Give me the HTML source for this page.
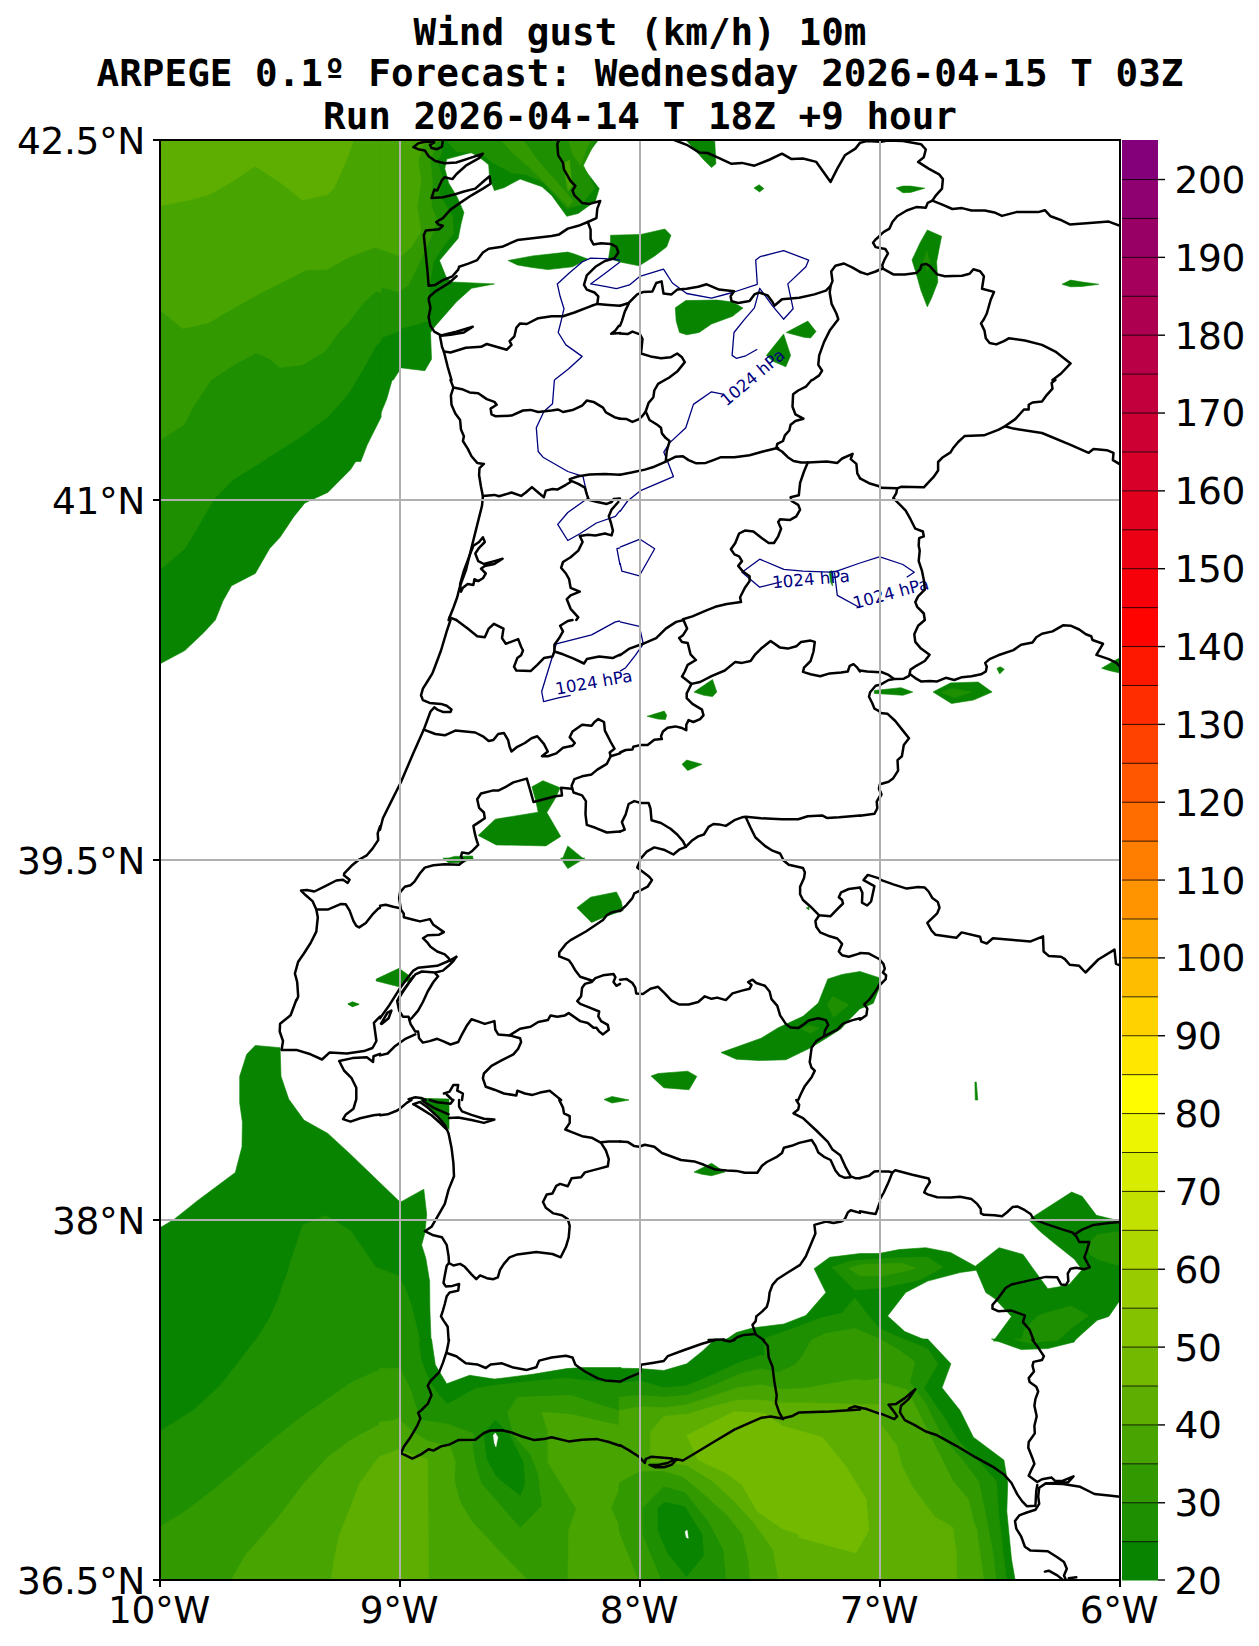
<!DOCTYPE html>
<html><head><meta charset="utf-8"><title>Wind gust (km/h) 10m</title>
<style>
html,body{margin:0;padding:0;background:#fff}
svg{display:block}
.t{font-family:"DejaVu Sans Mono","Liberation Mono",monospace;font-weight:bold;font-size:37.62px;text-anchor:middle;fill:#000}
.k{font-family:"DejaVu Sans","Liberation Sans",sans-serif;font-size:37.5px;fill:#000;letter-spacing:-0.4px}
.c{font-family:"DejaVu Sans","Liberation Sans",sans-serif;font-size:16.67px;fill:#00007f}
</style></head><body>
<svg width="1259" height="1646" viewBox="0 0 1259 1646">
<rect width="1259" height="1646" fill="#fff"/>
<text class="t" x="640" y="45" xml:space="preserve">Wind gust (km/h) 10m</text>
<text class="t" x="640" y="86" xml:space="preserve">ARPEGE 0.1º Forecast: Wednesday 2026-04-15 T 03Z</text>
<text class="t" x="640" y="129" xml:space="preserve">Run 2026-04-14 T 18Z +9 hour</text>
<defs><clipPath id="m"><rect x="160" y="140" width="960" height="1440"/></clipPath></defs>
<g clip-path="url(#m)">
<path d="M159.0,1228.4 174.3,1219.2 198.1,1200.2 235.3,1172.5 242.0,1146.8 242.4,1122.0 239.7,1102.9 239.7,1076.3 246.7,1054.3 255.3,1045.4 280.1,1047.7 281.0,1076.3 288.7,1099.1 303.9,1120.1 327.8,1133.4 350.6,1154.4 400.0,1202.1 400.0,1301.2 159.0,1301.2Z" fill="#098400" stroke="#098400" stroke-width="0.6"/>
<path d="M347.8,1003.8 352.5,1001.9 359.2,1004.2 352.5,1006.7Z" fill="#098400" stroke="#098400" stroke-width="0.6"/>
<path d="M159.0,1279.0 401.1,1279.0 401.1,1581.2 159.0,1581.2Z" fill="#098400" stroke="#098400" stroke-width="0.6"/>
<path d="M158.7,138.7 381.1,138.7 381.1,417.0 367.1,445.0 360.8,461.5 158.7,461.5Z" fill="#098400" stroke="#098400" stroke-width="0.6"/>
<path d="M159.0,459.0 357.3,459.0 350.6,469.5 327.8,492.4 304.9,502.9 293.4,517.2 280.1,537.2 269.6,548.6 255.3,573.4 231.5,585.8 222.9,601.1 215.3,620.1 203.8,632.5 184.8,650.6 159.0,664.4Z" fill="#098400" stroke="#098400" stroke-width="0.6"/>
<path d="M348.3,1004.4 352.5,1002.1 358.6,1004.4 352.5,1006.5Z" fill="#098400" stroke="#098400" stroke-width="0.6"/>
<path d="M421.0,1099.0 449.0,1099.0 449.0,1129.5 441.0,1120.0 431.5,1111.4Z" fill="#098400" stroke="#098400" stroke-width="0.6"/>
<path d="M379.0,1183.9 399.1,1202.9 423.8,1189.2 426.7,1214.4 424.8,1233.4 421.6,1244.9 425.8,1258.2 429.6,1281.1 429.9,1309.7 431.1,1341.1 379.0,1341.1Z" fill="#098400" stroke="#098400" stroke-width="0.6"/>
<path d="M379.0,1339.0 431.5,1339.0 435.3,1364.8 446.7,1383.8 469.6,1375.3 494.4,1379.1 532.5,1374.3 566.8,1368.6 582.1,1367.6 621.1,1367.6 621.1,1581.1 379.0,1581.1Z" fill="#098400" stroke="#098400" stroke-width="0.6"/>
<path d="M380.0,140.0 598.3,140.0 580.2,163.8 599.2,188.6 595.4,201.0 578.3,213.4 566.8,216.3 551.6,195.3 542.0,186.7 520.1,179.1 503.9,187.7 494.4,190.5 489.6,178.1 488.7,164.8 482.9,160.0 471.5,152.4 446.7,159.1 444.8,168.6 448.6,182.9 457.2,197.2 463.9,212.4 461.0,223.9 458.2,238.2 439.5,260.5 445.8,276.3 451.5,282.0 494.4,283.9 471.5,288.3 456.3,302.0 435.3,325.9 430.5,332.5 431.5,359.2 424.8,370.7 400.6,367.8 400.6,368.8 393.3,380.0 380.0,380.0Z" fill="#098400" stroke="#098400" stroke-width="0.6"/>
<path d="M508.1,260.5 532.5,255.9 567.8,252.1 574.4,254.0 587.8,259.1 572.5,266.8 547.8,269.6 530.6,267.3 517.3,264.9Z" fill="#098400" stroke="#098400" stroke-width="0.6"/>
<path d="M379.0,379.0 392.4,379.0 386.7,399.1 380.0,415.3 379.0,416.2Z" fill="#098400" stroke="#098400" stroke-width="0.6"/>
<path d="M478.2,835.4 495.3,819.2 538.2,812.2 535.9,801.1 531.9,786.8 543.0,780.7 560.1,787.8 555.4,798.2 546.8,812.5 560.7,836.4 545.8,845.9 528.7,845.5 496.3,844.9Z" fill="#098400" stroke="#098400" stroke-width="0.6"/>
<path d="M562.0,860.0 567.8,845.9 584.9,860.0Z" fill="#098400" stroke="#098400" stroke-width="0.6"/>
<path d="M442.9,860.0 454.3,856.4 472.5,856.0 473.4,860.0Z" fill="#098400" stroke="#098400" stroke-width="0.6"/>
<path d="M442.9,858.1 472.5,858.1 463.9,862.3 448.6,862.9Z" fill="#098400" stroke="#098400" stroke-width="0.6"/>
<path d="M560.7,858.1 584.9,858.1 567.8,868.6Z" fill="#098400" stroke="#098400" stroke-width="0.6"/>
<path d="M576.9,907.7 590.6,897.2 616.4,892.0 621.1,901.0 623.1,910.5 604.9,916.8 591.6,922.5Z" fill="#098400" stroke="#098400" stroke-width="0.6"/>
<path d="M376.2,979.1 399.1,968.3 408.6,975.3 412.4,980.1 404.8,982.0 399.1,986.8 376.2,981.0Z" fill="#098400" stroke="#098400" stroke-width="0.6"/>
<path d="M421.0,1098.3 446.7,1099.2 446.7,1101.1 421.0,1101.1Z" fill="#098400" stroke="#098400" stroke-width="0.6"/>
<path d="M694.0,1172.1 711.5,1163.3 724.8,1172.1 711.5,1175.7 702.0,1174.3Z" fill="#098400" stroke="#098400" stroke-width="0.6"/>
<path d="M723.9,1341.1 736.3,1332.6 753.4,1327.8 783.9,1324.0 805.9,1315.4 825.9,1292.5 814.1,1268.7 829.7,1257.3 860.0,1253.5 881.2,1253.5 881.2,1341.1Z" fill="#098400" stroke="#098400" stroke-width="0.6"/>
<path d="M604.0,1099.5 612.0,1096.5 629.0,1100.0 612.0,1103.0Z" fill="#098400" stroke="#098400" stroke-width="0.6"/>
<path d="M619.0,1368.2 640.0,1368.6 663.8,1370.5 686.7,1363.8 702.0,1351.4 715.3,1339.0 881.2,1339.0 881.2,1581.1 619.0,1581.1Z" fill="#098400" stroke="#098400" stroke-width="0.6"/>
<path d="M685.8,140.0 714.7,140.0 715.9,163.8 711.5,167.6 703.9,160.0 696.3,151.4Z" fill="#098400" stroke="#098400" stroke-width="0.6"/>
<path d="M754.0,188.0 759.2,184.8 763.9,188.6 759.5,191.9Z" fill="#098400" stroke="#098400" stroke-width="0.6"/>
<path d="M610.5,235.3 641.0,234.4 664.8,229.0 670.9,235.3 666.7,246.8 654.3,256.3 639.1,265.8 620.0,262.0 608.6,258.2 610.5,246.8Z" fill="#098400" stroke="#098400" stroke-width="0.6"/>
<path d="M675.3,307.8 685.8,300.5 717.2,300.1 732.5,302.0 743.0,308.1 732.5,316.3 711.5,324.0 699.1,332.5 686.7,334.8 679.5,332.5 676.2,321.1Z" fill="#098400" stroke="#098400" stroke-width="0.6"/>
<path d="M786.2,332.5 807.8,321.1 816.0,331.6 810.6,337.9 804.0,337.3Z" fill="#098400" stroke="#098400" stroke-width="0.6"/>
<path d="M766.4,355.4 783.6,334.1 790.6,355.4 785.8,366.8 772.5,361.1Z" fill="#098400" stroke="#098400" stroke-width="0.6"/>
<path d="M829.3,571.6 832.0,570.6 832.5,585.9 830.6,582.1Z" fill="#098400" stroke="#098400" stroke-width="0.6"/>
<path d="M694.0,692.1 712.5,679.5 716.8,692.1 712.5,696.6 703.9,695.3Z" fill="#098400" stroke="#098400" stroke-width="0.6"/>
<path d="M647.1,716.3 664.2,711.1 666.7,715.3 665.4,719.5 658.1,719.1Z" fill="#098400" stroke="#098400" stroke-width="0.6"/>
<path d="M682.0,764.3 686.7,760.1 702.0,764.3 687.7,770.6Z" fill="#098400" stroke="#098400" stroke-width="0.6"/>
<path d="M721.0,1052.5 734.4,1047.8 761.1,1038.2 778.2,1027.8 803.0,1016.3 818.3,1003.0 827.8,979.1 842.1,974.4 860.0,971.5 880.0,978.0 881.0,983.5 873.3,1003.2 867.2,1006.0 860.0,1008.7 848.8,1020.1 841.1,1028.7 827.8,1037.3 810.6,1047.8 785.8,1059.8 759.2,1060.5 736.3,1059.2Z" fill="#098400" stroke="#098400" stroke-width="0.6"/>
<path d="M651.1,1076.0 658.1,1073.5 687.7,1071.2 696.8,1076.4 689.0,1089.7 663.8,1087.8Z" fill="#098400" stroke="#098400" stroke-width="0.6"/>
<path d="M806.4,908.0 808.7,906.7 809.1,909.9Z" fill="#098400" stroke="#098400" stroke-width="0.6"/>
<path d="M879.0,1253.5 899.1,1249.6 925.8,1247.7 950.5,1252.5 975.3,1266.2 999.1,1247.7 1023.0,1254.4 1032.5,1267.8 1047.8,1288.7 1059.2,1286.8 1069.7,1284.0 1082.1,1269.7 1074.4,1259.2 1051.6,1241.1 1040.1,1231.5 1028.7,1220.1 1034.4,1215.9 1071.6,1192.1 1082.1,1196.3 1096.4,1215.3 1120.0,1221.0 1120.0,1300.2 1108.8,1316.4 1097.3,1320.2 1080.2,1335.4 1074.4,1341.1 993.4,1341.1 1011.5,1316.4 994.4,1298.3 985.8,1292.5 976.3,1270.2 960.1,1272.5 927.7,1281.1 905.7,1292.5 887.6,1316.0 904.8,1331.6 927.7,1341.1 879.0,1341.1Z" fill="#098400" stroke="#098400" stroke-width="0.6"/>
<path d="M879.0,1339.0 927.7,1339.0 950.9,1363.8 942.0,1387.7 960.1,1410.5 973.4,1437.2 1003.9,1460.1 1007.7,1483.0 1006.8,1511.6 1011.5,1559.2 1015.3,1581.1 879.0,1581.1Z" fill="#098400" stroke="#098400" stroke-width="0.6"/>
<path d="M991.5,1339.0 1021.1,1349.5 1047.8,1348.6 1074.4,1341.9 1074.4,1339.0Z" fill="#098400" stroke="#098400" stroke-width="0.6"/>
<path d="M896.2,188.0 902.9,186.1 910.5,186.1 924.8,188.2 910.5,192.4 902.9,192.8Z" fill="#098400" stroke="#098400" stroke-width="0.6"/>
<path d="M912.0,260.1 920.0,242.9 927.3,230.0 941.6,236.3 939.1,248.7 936.6,262.0 937.8,282.0 931.5,298.2 927.3,306.8 921.0,290.6 916.2,273.4Z" fill="#098400" stroke="#098400" stroke-width="0.6"/>
<path d="M1062.0,284.3 1070.6,280.1 1082.1,282.0 1098.8,284.3 1082.1,286.4 1070.6,286.8Z" fill="#098400" stroke="#098400" stroke-width="0.6"/>
<path d="M874.3,690.5 901.0,687.7 912.8,692.1 902.9,695.3 888.6,694.3 874.3,693.4Z" fill="#098400" stroke="#098400" stroke-width="0.6"/>
<path d="M933.0,691.9 950.5,682.9 978.2,682.0 992.1,692.1 973.4,700.1 951.5,703.5Z" fill="#098400" stroke="#098400" stroke-width="0.6"/>
<path d="M996.9,668.6 1000.1,666.7 1004.3,669.2 999.7,673.9Z" fill="#098400" stroke="#098400" stroke-width="0.6"/>
<path d="M1101.7,668.2 1117.3,659.1 1120.0,658.1 1120.0,673.0 1108.8,670.5Z" fill="#098400" stroke="#098400" stroke-width="0.6"/>
<path d="M974.9,1082.1 976.3,1082.1 977.8,1100.0 975.3,1100.0Z" fill="#098400" stroke="#098400" stroke-width="0.6"/>
<path d="M278.2,1301.2 293.4,1253.5 303.0,1224.9 325.8,1215.4 350.6,1230.7 375.4,1266.9 400.0,1276.4 400.0,1301.2Z" fill="#1e8f00" stroke="#1e8f00" stroke-width="0.6"/>
<path d="M284.9,1279.0 278.2,1299.1 270.6,1316.2 259.1,1335.3 240.1,1360.1 221.0,1384.8 194.3,1409.6 159.0,1431.9 159.0,1581.2 401.1,1581.2 401.1,1279.0Z" fill="#1e8f00" stroke="#1e8f00" stroke-width="0.6"/>
<path d="M158.7,138.7 381.1,138.7 381.1,340.8 376.0,345.9 363.3,368.8 348.1,394.2 327.8,417.0 299.8,437.4 261.7,461.5 158.7,461.5Z" fill="#1e8f00" stroke="#1e8f00" stroke-width="0.6"/>
<path d="M159.0,459.0 266.8,459.0 232.4,480.0 213.4,500.0 198.1,526.7 184.8,548.6 159.0,570.9Z" fill="#1e8f00" stroke="#1e8f00" stroke-width="0.6"/>
<path d="M379.0,1269.3 397.2,1276.3 404.8,1286.8 411.5,1305.9 417.2,1328.8 420.0,1341.1 379.0,1341.1Z" fill="#1e8f00" stroke="#1e8f00" stroke-width="0.6"/>
<path d="M379.0,1339.0 418.1,1339.0 421.0,1359.1 429.6,1381.9 439.1,1395.3 447.7,1403.9 475.3,1388.6 498.2,1384.8 532.5,1381.0 566.8,1378.1 589.7,1381.0 621.1,1382.9 621.1,1581.1 379.0,1581.1Z" fill="#1e8f00" stroke="#1e8f00" stroke-width="0.6"/>
<path d="M380.0,140.0 442.9,140.0 441.0,155.3 437.2,161.0 442.9,178.1 439.1,193.4 452.4,216.3 453.4,233.4 442.9,246.8 433.4,262.0 429.6,284.9 427.7,321.1 400.6,328.7 400.6,330.6 380.0,338.3Z" fill="#1e8f00" stroke="#1e8f00" stroke-width="0.6"/>
<path d="M444.8,138.7 456.3,151.4 481.7,154.0 493.1,162.9 512.2,173.0 524.9,174.3 542.7,181.9 566.8,208.6 580.8,204.8 594.8,188.3 583.4,165.4 594.8,142.5 596.1,138.7Z" fill="#1e8f00" stroke="#1e8f00" stroke-width="0.6"/>
<path d="M831.9,1267.2 851.0,1260.8 889.3,1258.2 927.6,1257.0 942.9,1267.2 919.9,1279.9 884.2,1287.6 854.9,1290.1 847.2,1282.5Z" fill="#1e8f00" stroke="#1e8f00" stroke-width="0.6"/>
<path d="M764.3,1338.6 798.7,1326.4 820.4,1318.2 842.1,1313.1 854.9,1297.8 866.3,1313.1 879.1,1328.4 902.1,1338.6 927.6,1348.8 937.8,1364.1 922.5,1389.7 942.9,1415.2 958.2,1440.7 978.6,1461.1 996.5,1481.5 999.0,1517.2 1006.7,1581.0 764.3,1581.0Z" fill="#1e8f00" stroke="#1e8f00" stroke-width="0.6"/>
<path d="M619.0,1382.9 640.0,1381.0 663.8,1387.7 686.7,1385.8 715.3,1373.4 738.2,1362.9 761.1,1355.3 772.5,1357.2 791.6,1361.0 803.0,1353.3 810.6,1339.0 881.2,1339.0 881.2,1581.1 619.0,1581.1Z" fill="#1e8f00" stroke="#1e8f00" stroke-width="0.6"/>
<path d="M827.4,1004.9 832.5,996.3 848.8,1004.9 833.5,1017.3Z" fill="#1e8f00" stroke="#1e8f00" stroke-width="0.6"/>
<path d="M801.1,1028.7 808.7,1024.9 819.2,1028.1 810.6,1033.5Z" fill="#1e8f00" stroke="#1e8f00" stroke-width="0.6"/>
<path d="M1120.0,1231.5 1097.3,1234.4 1086.8,1244.9 1089.7,1254.4 1099.2,1260.1 1120.0,1265.8Z" fill="#1e8f00" stroke="#1e8f00" stroke-width="0.6"/>
<path d="M1021.1,1341.1 1024.9,1328.8 1038.2,1315.4 1070.6,1305.9 1088.7,1315.4 1070.6,1328.8 1057.3,1341.1Z" fill="#1e8f00" stroke="#1e8f00" stroke-width="0.6"/>
<path d="M879.0,1339.0 891.4,1339.0 927.7,1357.2 937.2,1364.8 923.8,1387.7 942.9,1416.3 956.3,1439.1 971.5,1458.2 994.4,1481.1 996.3,1503.9 1002.0,1549.7 1005.8,1581.1 879.0,1581.1Z" fill="#1e8f00" stroke="#1e8f00" stroke-width="0.6"/>
<path d="M1013.4,1339.0 1032.5,1343.8 1051.6,1339.0Z" fill="#1e8f00" stroke="#1e8f00" stroke-width="0.6"/>
<path d="M923.5,262.0 926.7,250.6 929.9,262.0 927.7,271.5Z" fill="#1e8f00" stroke="#1e8f00" stroke-width="0.6"/>
<path d="M941.0,692.4 951.5,688.2 971.5,692.1 954.3,697.8Z" fill="#1e8f00" stroke="#1e8f00" stroke-width="0.6"/>
<path d="M483.9,1433.4 495.3,1420.1 509.6,1435.3 523.0,1462.0 524.9,1483.0 520.1,1495.4 496.3,1476.3 486.8,1458.2Z" fill="#098400" stroke="#098400" stroke-width="0.6"/>
<path d="M401.1,1368.1 375.4,1371.5 350.6,1382.9 325.8,1400.1 301.1,1417.3 274.4,1438.2 249.6,1459.2 217.2,1486.8 184.8,1511.6 159.0,1527.2 159.0,1581.2 401.1,1581.2Z" fill="#339900" stroke="#339900" stroke-width="0.6"/>
<path d="M158.7,138.7 381.1,138.7 381.1,292.5 376.0,291.2 363.3,302.7 348.1,323.0 337.9,333.2 325.2,351.0 302.3,364.9 279.5,367.5 269.3,358.6 256.6,353.0 233.7,364.9 210.8,380.2 193.0,406.9 184.1,424.7 158.7,441.2Z" fill="#339900" stroke="#339900" stroke-width="0.6"/>
<path d="M379.0,1368.6 400.0,1368.6 410.5,1389.6 415.3,1404.8 421.0,1420.1 446.7,1423.9 473.4,1433.4 472.5,1446.8 475.3,1463.9 481.0,1483.0 520.1,1527.8 542.0,1505.8 538.2,1473.4 530.6,1454.4 513.4,1435.3 507.7,1412.4 517.3,1397.2 570.6,1395.3 621.1,1411.5 621.1,1581.1 379.0,1581.1Z" fill="#339900" stroke="#339900" stroke-width="0.6"/>
<path d="M380.0,140.0 437.2,140.0 430.5,161.0 432.4,181.0 431.5,206.7 437.2,220.1 433.4,231.5 421.0,259.1 408.6,284.9 400.6,290.6 400.6,292.5 380.0,286.8Z" fill="#339900" stroke="#339900" stroke-width="0.6"/>
<path d="M499.5,138.7 522.3,138.7 537.6,160.3 557.9,183.2 573.2,201.0 568.1,206.6 550.3,188.3 530.0,168.0 512.2,152.7Z" fill="#339900" stroke="#339900" stroke-width="0.6"/>
<path d="M568.1,138.7 573.2,155.3 580.8,165.4 585.9,150.2 592.3,138.7Z" fill="#339900" stroke="#339900" stroke-width="0.6"/>
<path d="M848.5,1268.4 861.2,1264.6 902.1,1263.3 916.1,1268.4 884.2,1276.1 860.0,1276.1Z" fill="#339900" stroke="#339900" stroke-width="0.6"/>
<path d="M798.7,1361.6 803.1,1354.4 811.5,1340.1 825.5,1333.5 854.9,1328.4 879.1,1338.6 897.0,1348.8 914.8,1361.6 909.7,1382.0 925.0,1402.4 942.9,1438.1 963.3,1461.1 978.6,1481.5 986.3,1517.2 993.9,1581.0 798.7,1581.0Z" fill="#339900" stroke="#339900" stroke-width="0.6"/>
<path d="M619.0,1397.2 640.0,1395.3 663.8,1397.2 686.7,1395.3 715.3,1384.8 738.2,1374.3 761.1,1368.6 778.2,1372.4 795.4,1364.8 806.8,1351.4 812.5,1339.0 881.2,1339.0 881.2,1581.1 619.0,1581.1Z" fill="#339900" stroke="#339900" stroke-width="0.6"/>
<path d="M879.0,1349.5 914.3,1362.9 908.6,1387.7 913.4,1410.5 927.7,1429.6 942.9,1446.8 946.7,1458.2 973.4,1486.8 983.9,1507.8 992.5,1549.7 996.3,1581.1 879.0,1581.1Z" fill="#339900" stroke="#339900" stroke-width="0.6"/>
<path d="M401.1,1417.3 375.4,1426.8 350.6,1440.1 327.8,1457.3 304.9,1482.1 282.0,1512.6 262.9,1535.4 245.8,1554.5 230.5,1581.2 401.1,1581.2Z" fill="#48a400" stroke="#48a400" stroke-width="0.6"/>
<path d="M158.7,138.7 381.1,138.7 381.1,249.8 374.8,247.3 349.4,256.9 326.5,269.6 306.1,270.1 287.1,279.8 261.7,292.5 236.3,306.5 208.3,323.0 182.9,328.6 158.7,309.0Z" fill="#48a400" stroke="#48a400" stroke-width="0.6"/>
<path d="M379.0,1422.0 400.0,1420.1 412.4,1431.5 427.7,1441.0 450.5,1446.8 455.3,1462.0 454.3,1481.1 460.1,1502.0 471.5,1521.1 498.2,1549.7 528.7,1581.1 379.0,1581.1Z" fill="#48a400" stroke="#48a400" stroke-width="0.6"/>
<path d="M542.0,1412.4 547.8,1431.5 547.8,1462.0 563.0,1486.8 576.3,1508.7 568.7,1530.6 567.8,1581.1 621.1,1581.1 621.1,1425.8 570.6,1414.3Z" fill="#48a400" stroke="#48a400" stroke-width="0.6"/>
<path d="M380.0,140.0 424.8,140.0 418.1,161.0 421.0,181.0 417.2,206.7 421.0,231.5 411.5,246.8 400.6,256.7 380.0,249.0Z" fill="#48a400" stroke="#48a400" stroke-width="0.6"/>
<path d="M564.3,162.9 569.4,160.3 571.9,185.8 568.1,190.8 565.6,178.1Z" fill="#48a400" stroke="#48a400" stroke-width="0.6"/>
<path d="M798.7,1389.7 825.5,1384.5 854.9,1379.4 879.1,1382.0 907.2,1389.7 919.9,1415.2 937.8,1450.9 953.1,1481.5 968.4,1499.4 978.6,1542.8 983.7,1581.0 798.7,1581.0Z" fill="#48a400" stroke="#48a400" stroke-width="0.6"/>
<path d="M619.0,1410.5 640.0,1406.7 663.8,1407.7 686.7,1404.8 715.3,1395.3 738.2,1387.7 761.1,1384.8 782.0,1389.6 810.6,1387.7 833.5,1385.8 881.2,1378.1 881.2,1581.1 619.0,1581.1Z" fill="#48a400" stroke="#48a400" stroke-width="0.6"/>
<path d="M879.0,1429.6 899.1,1425.8 914.3,1435.3 921.0,1454.4 935.3,1483.0 952.4,1492.5 967.7,1505.8 977.2,1530.6 981.0,1581.1 879.0,1581.1Z" fill="#48a400" stroke="#48a400" stroke-width="0.6"/>
<path d="M401.1,1447.8 377.3,1459.2 359.2,1484.0 350.6,1506.8 339.2,1535.4 333.5,1562.1 331.2,1581.2 401.1,1581.2Z" fill="#5dae00" stroke="#5dae00" stroke-width="0.6"/>
<path d="M158.7,138.7 354.4,138.7 349.4,152.7 343.0,168.0 334.1,188.3 327.8,194.6 302.3,200.2 279.5,181.9 255.3,166.2 233.7,180.7 209.6,194.6 185.4,201.0 158.7,206.1Z" fill="#5dae00" stroke="#5dae00" stroke-width="0.6"/>
<path d="M379.0,1456.3 400.0,1450.6 427.7,1459.1 428.6,1581.1 379.0,1581.1Z" fill="#5dae00" stroke="#5dae00" stroke-width="0.6"/>
<path d="M798.7,1406.2 825.5,1405.0 858.7,1412.6 881.7,1425.4 897.0,1445.8 902.1,1466.2 912.3,1486.6 935.2,1517.2 953.1,1527.4 956.9,1581.0 798.7,1581.0Z" fill="#5dae00" stroke="#5dae00" stroke-width="0.6"/>
<path d="M650.5,1431.5 663.8,1416.3 686.7,1414.3 715.3,1405.8 738.2,1400.0 761.1,1400.0 782.0,1402.9 810.6,1402.9 881.2,1404.8 881.2,1581.1 619.0,1581.1 619.0,1474.4 640.0,1464.9 650.5,1463.0Z" fill="#5dae00" stroke="#5dae00" stroke-width="0.6"/>
<path d="M879.0,1463.9 891.4,1481.1 903.8,1505.8 929.6,1523.0 952.4,1528.7 956.3,1549.7 956.3,1581.1 879.0,1581.1Z" fill="#5dae00" stroke="#5dae00" stroke-width="0.6"/>
<path d="M798.7,1430.5 823.0,1438.1 845.9,1466.2 866.3,1499.4 868.9,1530.0 856.1,1553.0 798.7,1537.6Z" fill="#72b900" stroke="#72b900" stroke-width="0.6"/>
<path d="M686.7,1435.3 734.4,1411.5 764.9,1413.4 782.0,1425.8 822.1,1437.2 844.9,1469.6 856.4,1490.6 857.3,1550.6 810.6,1538.3 782.0,1528.7 757.3,1511.6 742.0,1484.9 726.8,1473.4 698.2,1460.1Z" fill="#72b900" stroke="#72b900" stroke-width="0.6"/>
<path d="M621.1,1484.9 611.6,1507.8 621.1,1528.7Z" fill="#339900" stroke="#339900" stroke-width="0.6"/>
<path d="M619.0,1473.4 640.0,1463.9 663.8,1462.0 686.7,1465.8 711.5,1481.1 734.4,1502.0 753.4,1523.0 772.5,1549.7 778.2,1581.1 619.0,1581.1Z" fill="#48a400" stroke="#48a400" stroke-width="0.6"/>
<path d="M619.0,1483.0 640.0,1471.5 663.8,1471.5 682.9,1477.3 705.8,1496.3 726.8,1515.4 742.0,1534.4 747.7,1559.2 749.6,1581.1 639.1,1581.1 619.0,1530.6Z" fill="#339900" stroke="#339900" stroke-width="0.6"/>
<path d="M642.9,1507.8 663.8,1486.8 684.8,1492.5 707.7,1521.1 722.9,1549.7 725.8,1581.1 661.9,1581.1 642.9,1534.4Z" fill="#1e8f00" stroke="#1e8f00" stroke-width="0.6"/>
<path d="M658.1,1507.8 664.8,1502.0 684.8,1506.8 702.0,1534.4 703.5,1555.4 686.7,1576.4 667.7,1553.5 658.1,1530.6Z" fill="#098400" stroke="#098400" stroke-width="0.6"/>
<path d="M493.4,1435.3 495.3,1433.0 497.8,1437.2 495.9,1446.8 494.4,1442.9Z" fill="#ffffff" stroke="#ffffff" stroke-width="0.6"/>
<path d="M685.2,1531.6 687.1,1530.2 688.2,1538.3 686.3,1537.3Z" fill="#ffffff" stroke="#ffffff" stroke-width="0.6"/>
<g stroke="#00007f" stroke-width="1.3" fill="none" stroke-linejoin="round">
<path d="M620.0,260.1 604.9,258.6 590.6,258.2 582.1,262.0 568.7,273.4 557.3,283.9 560.1,296.3 564.0,308.7 561.1,321.1 558.2,332.5 565.9,344.9 582.1,356.4 568.7,368.8 554.4,380.0"/>
<path d="M620.0,262.0 604.9,273.4 590.6,283.9 604.9,286.4 616.4,288.7 620.0,287.7"/>
<path d="M554.4,380.0 552.5,403.8 543.9,411.5 536.3,427.7 538.2,451.5 543.0,457.2 567.8,471.5 583.0,476.3 587.8,498.2 567.8,512.5 557.7,524.3 567.8,540.5 580.2,533.5 596.4,523.0 615.4,516.3 620.0,510.6"/>
<path d="M620.0,547.8 616.9,548.7 620.0,564.9"/>
<path d="M620.0,621.0 615.4,621.9 591.6,634.9 556.3,643.8 552.5,656.2 547.8,671.5 541.7,691.5 543.6,701.6 557.3,698.2 570.6,695.3"/>
<path d="M620.0,287.7 629.5,284.9 640.0,276.3 663.5,269.2 672.4,283.0 686.7,293.5 711.5,298.2 732.5,292.5 757.3,284.3 755.7,260.1 760.1,256.7 783.6,250.6 808.7,260.1 805.9,266.8 787.8,283.9 793.1,308.7 783.6,319.2 772.5,305.8 759.7,288.3 754.4,307.8 743.9,320.1 734.0,332.5 732.1,355.4 736.3,358.3 745.8,355.8 757.3,349.3"/>
<path d="M620.0,511.5 627.6,501.0 640.0,490.9 673.4,476.6 668.6,463.9 663.8,452.1 669.6,442.9 685.8,427.7 693.4,404.4 711.5,391.8 723.9,394.3"/>
<path d="M620.0,547.2 640.0,539.2 654.7,548.7 639.4,575.8 621.9,571.2 620.0,563.0"/>
<path d="M782.0,581.7 759.7,587.2 742.0,572.2 759.7,559.2 783.9,569.3 803.0,571.2 829.7,572.2 835.4,571.6 860.0,563.0"/>
<path d="M834.5,572.5 837.3,595.4 860.0,607.8"/>
<path d="M620.0,621.9 639.4,626.3 643.3,643.8 635.3,655.3 625.7,667.7 620.0,671.1"/>
<path d="M880.0,556.9 902.9,564.5 914.3,572.2 906.7,577.3"/>
<path d="M860.0,563.0 880.0,556.6"/>
</g>
<text class="c" text-anchor="middle" transform="translate(594,683) rotate(-10)" y="5">1024 hPa</text>
<text class="c" text-anchor="middle" transform="translate(753,378) rotate(-40)" y="5">1024 hPa</text>
<text class="c" text-anchor="middle" transform="translate(811,580) rotate(-5)" y="5">1024 hPa</text>
<text class="c" text-anchor="middle" transform="translate(891,594) rotate(-15)" y="5">1024 hPa</text>
<g stroke="#000" stroke-width="2.5" fill="none" stroke-linejoin="round" stroke-linecap="round">
<path d="M296.3,1000.0 290.6,1015.3 280.1,1023.8 279.7,1031.5 283.0,1041.0 281.6,1049.9 296.3,1049.9 310.6,1054.3 322.0,1059.5 329.7,1052.4 346.8,1053.4 364.0,1051.1 372.5,1048.0 376.4,1041.0 373.9,1022.9 380.0,1016.5"/>
<path d="M380.0,1053.9 373.5,1056.2 373.1,1062.0 366.8,1057.2 352.5,1058.1 339.2,1061.0 344.0,1070.5 351.6,1078.2 356.3,1087.7 356.3,1099.1 353.5,1108.7 345.9,1114.4 343.0,1119.1 350.6,1121.6 360.2,1118.2 373.5,1115.3 380.0,1114.5"/>
<path d="M380.0,826.4 377.7,833.4 378.2,840.1 372.5,848.6 366.8,855.3 359.2,859.5 351.5,865.8 344.3,873.4 343.9,875.3 349.6,879.7 347.7,883.0 343.0,879.7 336.3,880.5 325.8,885.8 314.4,891.5 306.8,890.0 301.0,890.6 305.8,895.3 312.5,901.1 316.3,909.6 317.8,917.3 316.3,931.6 310.6,943.0 303.9,953.5 298.2,961.7 294.9,973.5 297.2,982.1 298.2,996.4 296.7,1000.0"/>
<path d="M317.2,909.6 327.7,909.6 341.1,903.9 345.8,904.3 349.6,910.6 353.5,921.1 356.3,925.8 359.2,927.4 365.8,923.0 372.5,914.4 378.2,908.7 380.0,907.8"/>
<path d="M380.0,1115.3 387.6,1114.3 397.2,1110.5 400.0,1108.6 406.7,1102.9 411.5,1100.0"/>
<path d="M413.4,1104.2 420.0,1101.9 427.7,1107.6 437.2,1116.2 444.8,1124.8 448.6,1133.4 451.5,1147.7 453.4,1162.9 454.0,1176.3 448.6,1189.6 444.8,1203.9 437.2,1217.2 431.5,1226.8 424.8,1231.2 433.4,1235.3 442.0,1237.3 446.7,1244.9 448.6,1256.3 449.0,1263.0 453.4,1265.5 460.1,1263.9 464.8,1266.8 471.5,1274.4 476.3,1279.2 480.1,1275.4 486.8,1278.2 493.4,1279.2 497.8,1277.3 500.1,1269.7 503.9,1263.9 509.6,1257.3 517.3,1254.4 536.3,1252.1 552.5,1254.0 560.7,1257.3 565.9,1246.8 568.7,1237.3 569.7,1225.8 567.8,1219.1 562.0,1215.3 553.5,1213.4 545.8,1207.7 543.0,1202.0 546.8,1194.4 552.5,1193.4 556.3,1185.8 560.1,1183.9 567.8,1186.2 571.6,1178.2 581.1,1177.2 584.9,1172.4 599.2,1168.6 607.8,1166.3 608.8,1159.1 605.9,1150.5 601.1,1142.9 591.6,1137.7 582.1,1136.2 572.5,1132.4 565.3,1129.5 569.7,1122.9 569.7,1116.2 564.0,1113.3 563.0,1107.6 559.2,1100.0"/>
<path d="M601.1,1142.3 608.8,1141.6 620.0,1141.6"/>
<path d="M413.4,1104.2 421.0,1108.6 431.5,1115.3 441.0,1123.8 445.8,1128.6"/>
<path d="M429.6,1100.0 437.2,1102.3 450.5,1103.8 453.4,1100.0"/>
<path d="M422.9,1101.0 433.4,1107.6 448.6,1114.3"/>
<path d="M459.1,1100.0 459.1,1106.7 462.0,1111.4 471.5,1114.9 483.9,1118.7 494.4,1119.6 483.9,1122.9 471.5,1120.0 458.2,1117.5 449.0,1118.1"/>
<path d="M449.0,1263.0 446.7,1265.8 444.8,1275.4 443.5,1283.0 445.8,1286.4 452.4,1285.9 459.1,1284.0 458.2,1290.6 449.6,1292.5 446.7,1296.3 444.8,1304.0 442.9,1310.6 441.0,1316.4 443.9,1321.1 447.7,1326.8 448.6,1340.0"/>
<path d="M449.0,1340.0 446.7,1351.4 442.9,1362.9 439.1,1372.4 430.5,1381.0 427.7,1385.8 429.9,1390.5 431.5,1395.3 427.7,1403.9 421.0,1410.5 418.1,1412.8 420.4,1418.5 417.2,1425.8 410.5,1437.2 403.8,1446.8 401.0,1453.4 405.7,1455.3 412.4,1458.6 421.0,1454.4 428.6,1449.2 433.4,1450.6 441.0,1446.4 449.6,1444.5 458.2,1440.1 475.3,1439.7 483.9,1433.0 490.6,1430.5 502.0,1430.2 511.5,1432.5 523.0,1436.8 534.4,1440.1 543.9,1439.1 551.6,1437.2 568.7,1441.4 582.1,1439.7 597.3,1439.1 608.8,1442.0 620.0,1445.8"/>
<path d="M446.7,1353.0 456.3,1356.2 465.8,1363.3 477.2,1364.4 485.8,1368.0 490.6,1364.4 502.0,1363.3 513.4,1367.6 526.8,1369.9 536.3,1367.3 539.2,1360.6 551.6,1357.5 565.9,1355.8 572.5,1357.5 575.4,1364.8 584.9,1371.5 597.3,1378.1 604.9,1380.4 620.0,1381.4"/>
<path d="M442.9,140.0 442.0,146.7 437.2,149.2 431.5,148.0 429.9,144.8 434.3,142.3 425.8,141.5 418.1,143.4 413.4,147.2 418.1,149.2 424.8,150.5 428.6,156.2 435.3,161.0 444.8,163.3 456.3,162.5 469.6,158.1 482.9,153.7 479.1,158.1 465.8,165.7 456.3,174.3 452.4,179.1 444.8,177.2 442.0,180.0 437.2,190.5 434.3,189.6 431.5,198.1 442.9,197.2 455.3,194.3 463.9,191.5 475.3,188.6 483.9,181.0 489.6,176.2 490.6,183.8 482.9,188.6 471.5,195.3 460.1,202.9 450.5,209.6 442.9,218.2 436.2,222.0 439.1,224.8 442.9,225.8 439.1,229.2 425.8,230.5 423.8,235.3 425.8,254.4 427.7,273.4 428.6,285.8 435.3,284.9 442.9,280.1 452.4,276.3 458.2,269.6 459.1,266.8 467.7,263.9 477.2,260.1 482.9,252.5 488.7,248.7 502.0,246.8 517.3,240.1 532.5,238.2 551.6,235.9 559.2,234.4 567.8,228.6 578.3,225.8 587.8,222.0 596.4,218.2 597.3,208.6 600.2,201.0 589.7,203.9 582.1,202.9 574.4,195.3 572.5,190.5 575.4,185.8 570.6,181.0 567.8,176.2 564.0,169.5 563.0,162.9 558.2,155.3 557.3,143.8 559.2,140.0"/>
<path d="M456.6,276.1 449.0,283.0 435.5,291.4 429.6,296.5 428.6,299.2 430.5,307.8 428.6,317.3 430.5,325.9 434.3,331.6 441.0,335.4 456.3,331.6 472.8,326.8 463.9,332.5 450.5,334.8 441.0,335.8 440.0,336.3 442.0,346.8 443.9,351.6 447.7,366.8 451.5,380.0"/>
<path d="M443.9,351.6 450.5,352.5 465.8,347.8 481.0,346.8 486.8,344.0 496.3,346.8 506.8,349.7 511.5,344.9 509.6,341.1 514.4,336.3 516.3,327.8 520.1,323.4 526.8,324.0 538.2,318.2 551.6,316.3 563.0,316.3 574.4,312.5 591.6,305.8 597.3,303.9 608.8,304.9 620.0,305.8"/>
<path d="M597.3,303.9 598.3,296.3 594.5,292.5 586.8,289.6 584.0,284.9 586.8,275.3 595.4,266.8 604.9,261.0 614.5,258.2 618.3,252.5 616.4,246.8 610.7,243.9 601.1,243.3 593.5,244.5 590.6,239.1 590.6,229.6 587.8,222.0"/>
<path d="M618.9,325.7 615.4,330.6 611.2,333.7 620.2,333.1"/>
<path d="M450.5,380.0 453.4,387.6 450.9,395.3 451.5,404.8 455.3,413.4 460.1,420.0 461.0,429.6 463.9,436.2 462.9,441.0 467.7,448.6 471.5,456.3 477.2,462.9 483.9,463.9 479.5,468.1 479.1,475.3 481.0,486.8 482.9,496.3 482.0,505.8 477.2,524.9 471.5,547.8 465.8,570.6 460.1,585.9 457.2,597.3 453.4,607.8 449.6,617.3 448.6,620.0"/>
<path d="M453.4,387.6 462.0,389.2 469.6,392.4 478.2,393.3 486.8,399.1 494.4,401.9 496.7,404.8 490.6,408.6 491.5,414.3 495.3,416.2 511.5,415.6 523.0,410.5 530.6,409.9 538.2,412.0 551.6,410.5 558.2,409.5 563.0,412.0 572.5,410.1 582.1,405.7 586.8,400.6 593.5,401.9 603.0,407.6 605.9,412.4 614.5,417.2 620.0,418.7"/>
<path d="M482.9,495.9 494.4,494.9 499.1,496.3 511.5,492.5 521.1,495.9 525.8,492.5 531.9,487.1 538.2,492.5 543.9,497.2 545.8,490.6 552.5,489.0 557.3,489.6 565.9,484.8 570.6,482.0 569.7,479.1 578.3,476.3 589.7,474.4 604.9,474.0 620.0,474.7"/>
<path d="M570.6,480.7 578.3,483.9 584.9,487.7 586.8,494.4 588.7,499.7 597.3,502.0 606.8,503.9 611.6,502.0 613.5,499.1 620.0,498.6"/>
<path d="M618.3,502.0 611.6,509.6 608.8,516.3 611.0,523.0 612.9,530.6 611.6,535.4 604.9,533.5 595.4,535.4 587.8,534.8 579.8,535.9 582.6,542.0 578.3,550.6 570.6,557.3 563.0,562.0 561.1,567.8 565.9,573.5 569.1,579.2 570.6,587.8 579.8,591.6 570.6,595.4 566.8,599.2 570.6,608.8 578.3,617.3 576.3,620.0"/>
<path d="M460.1,584.0 463.9,570.6 469.6,555.4 473.4,545.8 479.1,542.0 482.9,537.3 484.8,542.0 479.1,547.8 475.3,553.5 478.2,561.1 483.9,564.0 494.4,561.1 502.6,558.8 494.4,564.0 484.8,565.9 481.0,568.7 485.8,573.5 482.9,578.3 478.2,581.1 474.4,579.2 473.4,584.9 467.7,584.0 462.9,587.8 461.0,591.6 460.1,584.9"/>
<path d="M449.6,617.3 456.3,620.0"/>
<path d="M450.5,620.0 446.7,631.4 441.0,650.5 435.3,665.8 432.4,673.4 427.7,681.0 422.9,688.6 421.0,695.3 422.9,700.1 429.6,702.9 441.0,703.9 446.7,705.8 451.5,709.6 450.5,711.9 442.9,711.9 437.2,709.6 434.3,707.3 430.5,711.5 423.8,729.6 412.4,755.3 401.0,782.0 391.4,801.1 382.9,818.3 380.0,829.7"/>
<path d="M456.3,620.0 467.7,628.6 477.2,636.2 484.8,637.2 488.7,628.6 494.0,623.8 503.5,628.6 502.0,638.1 505.8,643.8 518.2,639.1 521.1,646.7 523.0,650.5 521.1,655.3 517.3,658.1 514.0,666.7 516.3,670.5 530.6,671.1 537.3,664.8 543.9,658.1 552.5,656.6 554.4,651.5 554.4,644.8 559.2,638.1 563.0,631.4 560.1,625.7 567.8,621.0 572.5,620.0"/>
<path d="M554.4,651.5 563.0,654.3 572.5,658.1 584.0,663.5 586.8,659.1 599.2,656.6 612.6,658.1 620.0,654.7"/>
<path d="M423.8,729.6 435.3,734.0 444.8,735.3 455.3,730.6 475.3,732.5 482.9,736.3 488.7,741.0 493.4,740.1 498.2,734.0 503.9,732.9 508.1,740.1 509.6,746.8 511.5,751.5 517.3,746.8 524.9,743.0 531.5,738.2 537.3,736.3 543.9,743.9 547.8,751.5 542.0,756.3 547.8,756.3 556.3,753.4 563.0,747.7 572.5,745.8 574.8,743.0 569.7,737.2 572.5,731.5 582.1,724.8 591.6,725.8 594.5,722.0 598.3,719.1 604.0,722.0 604.9,730.6 610.7,742.0 614.5,748.7 609.7,752.5 610.7,756.3 620.0,753.4"/>
<path d="M610.7,756.3 606.8,763.9 597.3,769.6 591.6,774.4 582.1,776.3 574.4,779.2 571.6,785.8 573.5,792.5 582.1,795.4 585.9,801.1 585.5,814.4 586.8,824.9 595.4,827.8 606.8,832.5 620.0,831.6"/>
<path d="M571.6,788.7 561.1,787.8 562.0,795.4 555.4,796.3 543.9,799.2 533.5,802.0 530.6,791.6 526.8,778.6 513.4,782.4 505.8,786.8 498.2,790.6 492.5,790.6 481.0,793.5 477.2,799.2 479.1,807.8 483.9,812.5 484.8,818.3 479.1,822.1 473.4,825.9 474.4,831.6 476.3,839.2 478.2,844.9 472.5,850.7 468.6,853.5 462.0,852.6 461.0,856.4 462.9,860.0"/>
<path d="M463.9,861.0 459.1,864.8 444.8,864.2 433.4,865.3 424.8,867.6 420.0,873.3 414.3,881.9 410.5,885.2 404.8,886.7 400.0,892.4 399.1,898.1 401.0,909.6 403.8,913.8 403.8,917.2 412.4,919.5 420.0,921.4 429.9,919.1 433.4,924.8 443.9,932.1 439.1,934.7 427.7,935.3 422.9,938.2 427.7,942.9 430.5,946.7 437.2,951.5 444.8,954.4 448.6,958.2 450.5,961.0"/>
<path d="M456.3,956.8 448.6,961.0 437.2,965.8 418.1,967.7 413.4,970.6 406.7,979.1 399.1,989.6 389.5,1004.9 380.0,1018.2"/>
<path d="M456.3,956.8 453.4,961.0 448.6,965.8 442.9,970.6 435.3,972.5 421.9,971.5 415.3,974.4 408.6,983.0 401.0,993.4 397.5,1000.7"/>
<path d="M381.0,1023.6 387.6,1012.5 391.4,1010.6 388.6,1018.2 381.9,1023.9"/>
<path d="M435.3,973.4 438.1,976.3 433.4,982.0 427.7,991.5 422.9,1002.0 418.1,1010.6 412.4,1017.3 409.5,1020.1"/>
<path d="M413.4,976.3 401.9,993.4 397.2,1001.1 399.1,1010.6 402.9,1016.7 408.6,1016.7 410.5,1023.9 415.3,1031.6 418.1,1031.6 419.1,1038.2 422.9,1042.6 429.6,1041.1 437.2,1038.8 442.9,1041.1 450.5,1044.5 458.2,1042.0 462.0,1034.4 466.7,1025.8 471.5,1019.2 477.2,1021.1 484.8,1023.9 494.4,1021.1 495.3,1029.7 498.2,1034.4 509.6,1035.4 520.1,1038.2 521.1,1042.0 518.2,1048.7 513.4,1054.4 502.0,1060.2 491.5,1065.9 483.9,1073.5 482.9,1078.3 485.8,1086.8 494.4,1089.7 503.9,1093.5 516.3,1095.4 517.3,1090.7 524.9,1093.5 532.5,1094.9 540.1,1092.6 549.7,1090.7 555.4,1095.4 561.1,1100.0"/>
<path d="M415.3,1034.4 404.8,1039.2 395.3,1045.9 387.6,1053.5 380.0,1055.4"/>
<path d="M509.6,1035.4 520.1,1028.7 530.6,1026.8 538.2,1022.0 547.8,1020.1 550.6,1015.4 557.3,1016.7 564.9,1015.4 568.7,1013.1 580.2,1021.1 587.8,1023.0 593.5,1027.8 596.4,1027.8 599.2,1031.6 603.0,1034.4 608.8,1029.7 607.8,1024.9 601.1,1021.1 598.3,1016.3 599.2,1011.5 589.7,1007.7 580.2,1003.9 577.3,1001.1 581.1,996.3 582.1,987.7 584.9,983.9 591.6,982.0 595.4,978.2 603.0,975.3 613.5,974.0 615.4,977.2 613.5,982.0 616.4,985.8 620.0,983.9"/>
<path d="M591.6,980.5 580.2,976.7 575.4,970.6 571.6,963.9 568.7,960.1 559.2,956.3 559.2,952.5 565.9,943.9 570.6,940.1 585.9,931.5 603.0,920.0 606.8,915.3 611.6,912.4 620.0,910.5"/>
<path d="M380.0,905.8 385.7,904.8 393.3,906.7 399.1,908.0"/>
<path d="M443.9,1093.5 449.6,1091.6 453.4,1084.9 458.2,1084.9 457.2,1090.7 462.9,1093.5 462.0,1100.0"/>
<path d="M446.7,1094.5 452.4,1100.0"/>
<path d="M408.6,1099.2 415.3,1097.3 421.0,1097.9 425.8,1100.0"/>
<path d="M620.0,1141.6 627.6,1141.9 634.3,1146.1 639.1,1146.7 644.8,1144.8 654.3,1146.7 661.9,1153.0 681.0,1160.0 694.3,1161.4 703.9,1164.8 715.3,1169.6 726.8,1170.5 736.3,1170.9 744.9,1172.8 757.3,1172.8 762.0,1165.8 766.8,1162.0 776.3,1157.2 782.0,1153.0 783.9,1147.7 791.6,1145.8 799.2,1142.9 811.6,1140.0 815.4,1145.8 818.3,1152.4 824.0,1156.8 830.6,1160.0 835.4,1170.5 839.2,1175.3 844.9,1177.8 850.7,1177.2"/>
<path d="M796.3,1100.0 799.2,1104.8 798.2,1109.5 793.5,1113.3 803.0,1118.1 816.3,1130.5 827.8,1141.9 832.5,1149.6 840.2,1155.3 845.9,1167.7 850.7,1176.3 855.4,1178.2 860.0,1178.2"/>
<path d="M860.0,1212.9 850.7,1210.2 847.8,1212.5 844.9,1219.1 841.1,1221.6 833.5,1223.0 825.9,1221.6 814.4,1224.9 815.4,1233.4 810.6,1244.9 805.9,1256.3 800.1,1264.9 787.8,1272.5 777.3,1279.2 772.5,1284.9 769.6,1292.5 768.7,1300.2 766.8,1306.8 762.0,1311.6 756.3,1316.4 755.7,1321.1 752.5,1324.9 754.4,1330.7 755.7,1334.5 761.1,1338.3 763.9,1340.0"/>
<path d="M755.7,1334.1 743.9,1334.9 737.2,1337.3 733.4,1340.0"/>
<path d="M708.6,1340.0 723.9,1339.6"/>
<path d="M620.0,1445.2 629.5,1450.6 639.1,1456.7 644.8,1463.0 645.7,1459.1 651.5,1456.7 663.8,1457.8 672.4,1458.6 675.3,1461.0 671.5,1464.9 663.8,1467.3 655.3,1467.3 649.5,1464.9 658.1,1464.9 667.7,1463.0 675.3,1459.1 682.9,1460.5 696.3,1452.5 715.3,1441.0 734.4,1429.6 749.6,1422.9 761.1,1417.8 770.6,1416.6 782.0,1418.5 791.6,1416.3 799.2,1412.4 829.7,1411.5 848.8,1410.2 860.0,1409.6"/>
<path d="M848.8,1408.6 854.5,1406.3 860.0,1407.7"/>
<path d="M763.0,1340.0 767.7,1345.7 768.7,1357.2 772.5,1366.7 774.4,1381.9 776.7,1395.3 775.9,1402.9 779.2,1412.4 783.0,1419.1"/>
<path d="M620.0,1381.6 629.5,1377.2 640.0,1372.8 641.0,1364.8 652.4,1362.9 663.8,1361.0 667.7,1356.2 682.9,1350.5 702.0,1343.8 715.3,1340.0"/>
<path d="M722.9,1340.0 729.6,1341.5 734.4,1340.0"/>
<path d="M674.3,140.0 686.7,144.8 699.1,152.4 707.7,153.0 719.1,158.1 731.5,163.8 742.0,162.9 754.4,165.7 768.7,160.0 782.0,153.7 791.6,159.1 803.0,158.5 816.3,161.9 830.6,181.9 837.3,168.6 844.9,155.3 855.4,148.6 860.0,142.9"/>
<path d="M620.0,305.8 628.6,303.0 637.2,294.4 642.9,292.1 652.4,291.5 656.2,283.0 661.6,281.4 663.5,293.5 671.5,294.4 677.2,289.6 686.7,288.7 698.2,286.8 706.7,284.3 719.1,289.6 734.0,291.2 730.6,296.3 731.5,301.1 738.2,303.0 749.6,301.1 754.4,294.4 759.2,292.5 767.7,295.4 772.5,302.0 774.4,305.8 782.0,299.2 799.2,297.8 814.4,294.4 825.9,290.6 830.6,285.8 832.5,281.1 831.2,271.5 835.4,265.8 844.0,263.5 852.6,267.7 860.0,271.9"/>
<path d="M830.6,285.8 829.7,292.5 831.6,303.9 836.4,313.5 838.3,319.2 829.7,330.6 824.0,342.1 819.2,355.4 818.3,364.9 822.1,370.7 819.2,375.4 812.5,380.0"/>
<path d="M628.6,303.9 624.8,311.6 621.9,321.1 620.0,325.9"/>
<path d="M620.0,333.5 627.6,334.1 632.4,331.6 640.0,334.4 642.5,339.2 641.0,353.5 650.5,356.4 661.0,358.3 670.5,357.3 677.2,353.5 682.0,357.3 684.8,362.1 677.2,371.6 669.6,377.3 664.8,380.0"/>
<path d="M664.8,380.0 658.1,383.8 654.3,390.5 653.4,397.2 648.6,402.9 645.7,411.5 642.9,415.3 639.1,419.1 632.4,421.9 626.7,419.1 620.0,418.7"/>
<path d="M645.7,411.5 649.5,420.0 657.2,424.8 661.0,427.7 661.9,433.4 665.8,438.1 669.6,441.0 666.7,451.5 665.8,461.0"/>
<path d="M620.0,474.7 631.4,472.5 644.8,469.6 654.3,466.7 665.8,461.6 675.3,456.8 682.9,456.3 688.6,460.1 696.3,463.3 705.8,462.9 713.4,460.1 721.0,457.2 734.4,457.2 749.6,455.3 763.0,451.5 776.3,448.2 778.2,448.2"/>
<path d="M811.6,380.0 805.9,386.7 798.2,390.5 793.1,394.3 792.5,406.7 795.4,414.3 803.4,418.7 795.4,421.0 790.6,424.8 789.3,430.5 784.9,435.3 783.0,441.0 777.3,443.9 776.3,448.2 782.0,451.5 787.8,457.2 793.5,461.0 801.1,462.5 807.8,462.4 826.8,461.4 837.3,462.9 842.1,458.5 852.6,453.8 850.7,459.1 856.4,463.9 857.3,473.4 860.0,478.2"/>
<path d="M807.8,462.4 804.0,471.5 800.1,482.9 798.8,495.3 790.6,497.2 791.6,501.0 798.2,504.9 800.1,509.6 796.3,516.3 789.7,520.1 780.1,519.2 778.2,522.0 781.1,528.7 778.2,536.3 774.0,543.0 768.7,543.0 762.0,538.2 753.4,531.5 744.9,530.6 739.1,533.5 735.3,543.0 730.9,549.3 734.4,554.4 739.1,556.3 742.0,561.1 738.2,565.9 743.0,571.6 749.6,576.3 749.6,581.1 744.9,587.8 740.1,597.3 741.0,602.1 726.8,604.0 715.3,606.8 705.8,610.7 692.4,616.4 682.9,619.2"/>
<path d="M620.0,655.3 629.5,648.6 642.9,643.8 656.2,638.1 665.8,628.6 676.2,621.9 683.9,620.0"/>
<path d="M683.9,621.0 687.1,628.6 682.9,635.3 679.1,638.1 682.0,641.9 687.7,642.9 690.5,654.3 695.9,660.0 687.7,664.8 684.8,671.5 682.0,676.6 691.5,683.9 700.1,682.0 711.5,676.2 724.8,670.5 735.3,661.9 742.0,662.9 750.6,661.0 755.3,654.3 761.1,648.6 770.6,641.0 780.1,647.6 787.8,648.6 796.3,646.3 801.1,641.9 810.6,640.6 814.8,641.9 813.5,651.5 810.6,661.0 804.0,667.7 803.0,671.9 810.6,674.3 820.2,676.2 829.7,673.4 841.1,672.4 847.8,671.5 849.7,665.8 853.5,664.2 857.3,667.7 860.0,671.5"/>
<path d="M691.5,683.9 686.7,693.4 686.7,698.2 692.4,703.9 702.0,709.6 703.5,715.3 700.1,719.1 693.4,722.0 688.6,720.1 686.3,724.8 686.3,730.2 681.0,727.7 675.3,726.4 667.7,727.7 662.9,731.5 661.0,736.3 661.9,739.1 654.3,739.7 647.6,744.9 641.0,744.9 633.3,746.8 632.4,749.6 625.7,750.0 620.0,752.5"/>
<path d="M620.0,831.6 624.8,829.7 621.9,822.1 625.7,814.4 628.6,804.0 634.3,801.1 641.0,803.0 648.6,803.0 650.5,808.7 651.5,820.2 661.0,823.0 670.5,828.7 677.2,834.5 682.9,841.1 685.8,846.8"/>
<path d="M641.0,858.3 646.7,851.6 654.3,847.4 663.8,849.7 673.4,854.5 679.1,849.7 685.8,846.8 692.4,840.2 698.2,836.4 703.9,834.5 708.6,826.8 713.4,824.0 719.1,824.4 725.8,825.9 734.4,820.2 742.0,817.3 745.8,816.7 761.1,818.3 782.0,819.2 798.2,819.2 807.8,816.3 822.1,815.4 826.8,817.9 839.2,817.3 860.0,815.4"/>
<path d="M745.8,817.3 750.6,827.8 755.3,837.3 764.9,845.9 772.5,850.7 780.1,853.5 783.4,860.0"/>
<path d="M620.0,911.1 626.7,904.8 632.4,898.1 634.3,893.4 641.0,890.1 647.6,886.7 652.0,880.0 648.6,876.2 641.0,870.5 637.2,867.6 640.0,861.0"/>
<path d="M620.0,979.7 626.7,979.1 632.4,983.0 635.3,987.7 636.2,993.4 642.9,994.0 650.5,988.7 658.1,986.8 664.8,993.4 671.5,1000.7 679.1,1004.5 688.6,1004.5 698.2,1002.0 704.8,996.3 711.5,998.8 717.2,997.6 725.8,1000.1 732.5,993.4 742.0,990.6 749.6,988.7 751.5,984.9 748.1,982.0 752.5,979.7 756.3,983.0 764.9,985.8 769.6,991.5 771.5,999.2 777.3,1005.8 780.1,1015.4 785.8,1023.9 790.6,1027.4 798.2,1028.1 803.0,1024.9 808.7,1020.5 818.3,1018.2 825.9,1020.1 828.2,1024.9 824.9,1030.6 824.0,1036.3"/>
<path d="M860.0,1018.2 852.6,1020.1 843.0,1023.6 837.3,1029.7 824.0,1036.3 816.3,1041.1 811.6,1047.8 809.7,1062.1 811.6,1067.8 814.8,1070.6 811.6,1077.3 804.9,1085.9 801.1,1093.5 798.2,1100.0"/>
<path d="M783.0,860.0 788.7,864.8 803.0,868.0 804.9,872.4 804.0,878.1 800.1,886.7 800.1,894.3 803.0,900.0 810.6,906.7 819.2,915.3 830.6,916.2 837.3,909.2 843.0,903.5 842.1,900.0 838.8,897.2 841.1,892.4 848.8,889.0 860.0,887.6"/>
<path d="M819.2,915.3 815.4,921.0 816.3,926.7 820.2,932.4 829.7,936.3 837.3,938.5 842.1,943.9 838.8,951.5 842.1,955.3 848.8,956.8 860.0,953.4"/>
<path d="M880.0,1171.5 888.6,1171.5 892.4,1172.4 895.3,1170.2 912.4,1174.7 928.6,1178.5 929.9,1182.0 925.8,1188.6 924.2,1192.5 927.7,1194.4 937.2,1197.2 950.5,1197.6 960.1,1196.8 971.5,1199.1 977.2,1203.9 980.7,1208.7 981.0,1213.4 983.9,1214.8 994.4,1215.3 1002.0,1216.3 1006.8,1212.5 1012.5,1207.1 1017.3,1206.4 1024.9,1210.2 1030.6,1214.0 1033.5,1219.1 1045.8,1223.9 1063.0,1229.6 1072.5,1232.5 1076.3,1236.3 1079.2,1242.0 1089.3,1242.0 1086.8,1250.6 1084.4,1257.3 1089.7,1267.4 1084.0,1269.3 1076.3,1267.8 1070.6,1268.7 1067.8,1273.5 1068.3,1281.1 1065.9,1284.9 1061.1,1284.5 1058.8,1280.1 1057.3,1277.3 1045.8,1276.9 1030.6,1280.1 1011.5,1284.5 1005.8,1287.8 998.2,1298.3 992.5,1304.9 992.5,1308.7 998.2,1311.2 1011.5,1310.6 1024.9,1315.4 1023.0,1322.1 1029.6,1329.7 1033.5,1340.0"/>
<path d="M892.4,1172.4 888.6,1182.0 883.8,1192.5 880.0,1199.1"/>
<path d="M1076.3,1233.4 1082.1,1229.6 1093.5,1224.9 1108.8,1223.0 1120.0,1222.0"/>
<path d="M880.0,1413.4 887.6,1416.3 894.3,1419.1 897.2,1416.3 892.4,1409.6 888.6,1404.8 896.2,1403.9 904.8,1398.1 915.3,1389.2 908.6,1399.1 901.0,1405.8 900.0,1412.4 904.8,1420.1 914.3,1424.8 925.8,1431.5 937.2,1435.3 956.3,1445.8 975.3,1457.2 994.4,1467.7 1003.9,1474.4 1011.5,1483.0 1017.3,1494.4 1022.0,1501.1 1026.8,1506.2 1035.4,1505.8 1036.3,1490.6 1037.3,1484.9"/>
<path d="M1032.5,1340.0 1038.2,1347.6 1043.9,1356.2 1042.0,1360.0 1033.5,1361.9 1032.5,1365.7 1034.0,1371.5 1028.7,1378.1 1029.6,1381.9 1036.3,1386.7 1038.2,1391.5 1035.4,1399.1 1034.4,1405.8 1036.7,1416.3 1034.4,1425.8 1034.8,1433.4 1028.7,1442.0 1028.3,1447.7 1032.5,1458.2 1034.4,1463.9 1031.5,1469.6 1028.7,1475.7 1037.3,1482.0 1042.0,1479.2 1051.6,1477.6 1055.4,1481.1 1063.0,1480.7 1073.5,1476.3 1067.8,1482.6 1059.2,1482.6 1045.8,1483.4 1039.2,1487.7 1038.2,1496.3 1039.2,1503.9 1035.4,1509.7 1026.8,1512.5 1019.2,1515.4 1015.0,1521.1 1016.3,1528.7 1021.1,1536.3 1024.9,1546.8 1030.6,1550.6 1047.8,1551.2 1057.3,1557.3 1064.0,1562.1 1066.8,1568.8 1064.0,1575.4 1065.9,1580.0"/>
<path d="M1045.8,1483.4 1063.0,1483.9 1080.2,1486.8 1094.5,1494.0 1108.8,1495.4 1120.0,1496.7"/>
<path d="M1044.9,1571.6 1048.7,1570.7 1057.3,1575.4 1063.0,1580.0"/>
<path d="M1068.7,1578.3 1076.3,1577.3"/>
<path d="M880.0,141.9 887.6,140.6 902.9,141.0 921.0,144.2 925.8,149.5 923.8,157.2 918.1,161.9 928.6,168.6 939.1,174.3 942.9,179.1 942.0,188.6 935.3,196.2 932.4,200.6 927.7,202.9 925.8,207.7 916.2,207.1 906.7,210.5 897.2,216.3 892.4,222.0 889.5,228.6 883.8,231.9 880.0,235.3"/>
<path d="M932.4,200.6 942.9,204.8 952.4,209.0 962.0,208.1 971.5,210.5 984.8,210.5 994.4,212.4 1002.0,215.9 1016.3,212.1 1038.2,212.1 1044.9,210.2 1050.6,216.3 1060.1,219.7 1069.7,224.4 1089.7,222.9 1108.8,221.6 1120.0,225.8"/>
<path d="M880.0,248.1 885.3,249.0 888.0,253.4 884.8,259.1 882.3,264.9 882.9,268.7 893.3,274.4 904.8,274.4 916.2,273.1 920.0,269.6 921.6,264.9 925.8,263.9 929.6,265.8 937.2,274.4 944.8,276.3 962.0,275.7 969.6,273.8 973.4,269.2 980.1,271.2 983.9,276.3 982.0,288.7 994.0,291.9 990.6,300.1 986.8,313.5 983.9,319.2 981.0,323.4 984.5,330.6 985.8,338.3 989.6,343.0 996.3,344.4 1003.9,341.1 1008.7,338.3 1024.9,340.5 1042.0,344.9 1055.4,351.6 1070.6,363.4 1061.1,373.5 1052.5,380.0"/>
<path d="M882.9,268.7 880.0,269.2"/>
<path d="M1055.4,380.0 1051.6,382.9 1052.5,388.6 1045.8,396.2 1042.0,401.4 1032.5,402.5 1028.7,404.8 1028.7,409.5 1023.9,409.5 1015.3,419.1 1004.9,426.3 998.2,429.9 983.9,435.3 964.8,435.9 958.2,442.0 953.4,447.7 950.5,452.4 942.9,457.2 938.1,462.0 938.1,470.5 933.4,477.2 923.8,487.3 901.0,486.8 897.2,488.3 880.0,487.7"/>
<path d="M1004.9,426.3 1013.4,428.6 1042.0,433.0 1070.6,444.8 1088.7,452.8 1093.5,449.0 1106.8,450.2 1113.5,452.8 1112.9,460.1 1120.0,464.3"/>
<path d="M897.2,488.3 896.2,493.4 893.3,498.2 899.1,503.9 905.7,510.6 910.5,519.2 915.3,528.7 922.9,531.5 923.8,536.3 919.1,538.2 918.7,545.8 919.7,550.6 918.7,561.1 921.9,570.6 924.2,582.1 924.8,589.7 918.1,596.4 915.3,602.1 917.2,606.8 923.8,613.5 924.8,620.0"/>
<path d="M924.8,620.0 918.1,625.7 914.3,634.3 915.3,641.9 921.0,648.6 929.6,654.7 924.8,661.0 916.2,665.8 910.5,669.6 909.5,674.3"/>
<path d="M880.0,684.8 888.6,680.0 894.3,679.1 903.8,678.7 908.6,676.2 910.1,674.3"/>
<path d="M880.0,671.5 888.6,674.9 893.7,678.7"/>
<path d="M910.1,674.3 915.3,678.1 921.0,681.4 929.6,681.0 937.2,681.4 945.8,677.8 954.3,680.0 962.0,677.2 971.5,676.2 981.0,674.3 985.8,671.5 986.8,666.7 985.2,662.9 989.6,659.1 998.2,655.3 1013.4,650.1 1021.1,644.8 1032.5,642.5 1036.3,637.2 1042.0,633.7 1052.5,631.4 1063.0,625.3 1070.6,625.7 1079.2,629.5 1085.9,634.3 1091.2,636.2 1092.5,640.0 1103.0,643.8 1096.4,654.9 1108.8,659.1 1116.4,662.9 1120.0,666.7"/>
<path d="M880.0,713.0 887.6,713.8 895.3,721.0 902.9,730.6 909.0,738.2 903.8,744.9 901.9,756.3 897.5,760.1 898.1,770.6 893.3,778.2 888.6,781.7 880.0,784.3"/>
<path d="M880.0,790.6 881.5,794.4 880.0,797.3"/>
<path d="M880.0,879.6 893.3,884.4 906.7,888.6 918.1,887.1 924.8,887.6 928.6,891.5 932.4,898.1 937.8,901.9 939.5,907.7 937.2,913.4 927.3,922.9 931.5,930.5 935.3,934.7 956.3,937.8 961.6,932.4 980.1,936.8 981.4,941.6 986.8,943.5 992.9,938.2 1013.4,940.1 1030.6,941.4 1043.0,936.3 1043.6,951.5 1048.7,955.9 1061.1,956.8 1064.9,959.1 1069.7,964.8 1079.2,965.8 1085.5,972.5 1098.3,959.5 1114.5,949.6 1116.0,963.9 1120.0,965.2"/>
<path d="M880.0,960.1 883.4,963.9 884.8,968.7 882.9,972.5 886.1,975.3 885.7,979.1 880.0,984.9"/>
<path d="M860.0,142.9 866.8,141.1 880.0,141.7"/>
<path d="M860.0,272.0 867.3,274.4 875.6,271.5 881.0,269.0"/>
<path d="M880.0,248.0 875.6,247.1 873.0,242.7 875.6,239.5 880.0,235.7"/>
<path d="M860.0,478.4 869.0,483.2 880.0,486.5"/>
<path d="M860.0,670.5 867.2,671.6 880.0,672.2"/>
<path d="M880.0,684.7 875.6,685.8 870.1,692.3 869.0,696.7 872.3,703.3 874.5,708.7 880.0,711.6"/>
<path d="M860.0,815.8 874.5,813.7 877.3,808.2 876.7,801.6 881.0,794.0 878.9,788.5 880.0,784.2"/>
<path d="M860.0,887.8 862.4,892.8 862.0,902.6 867.2,905.5 871.1,901.5 874.4,886.2 863.5,880.1 867.8,874.9 880.0,878.6"/>
<path d="M860.0,952.9 869.0,953.6 880.0,959.5"/>
<path d="M880.0,983.5 875.6,991.1 869.0,999.9 864.2,1004.3 867.3,1008.6 866.4,1015.2 860.0,1019.6"/>
<path d="M860.0,1178.0 869.0,1175.8 874.4,1171.5 880.0,1171.0"/>
<path d="M880.0,1202.0 875.6,1214.1 869.0,1213.0 860.0,1211.3"/>
<path d="M860.0,1407.8 866.8,1409.1 880.0,1413.9"/>
</g>
<g stroke="#b0b0b0" stroke-width="2" fill="none">
<path d="M400,140V1580"/><path d="M640,140V1580"/><path d="M880,140V1580"/><path d="M160,500H1120"/><path d="M160,860H1120"/><path d="M160,1220H1120"/></g>
</g>
<rect x="160" y="140" width="960" height="1440" fill="none" stroke="#000" stroke-width="2"/>
<g stroke="#000" stroke-width="2">
<path d="M160,1580v7"/><path d="M400,1580v7"/><path d="M640,1580v7"/><path d="M880,1580v7"/><path d="M1120,1580v7"/><path d="M160,140h-7"/><path d="M160,500h-7"/><path d="M160,860h-7"/><path d="M160,1220h-7"/><path d="M160,1580h-7"/></g>
<text class="k" text-anchor="middle" x="159" y="1623">10°W</text>
<text class="k" text-anchor="middle" x="399" y="1623">9°W</text>
<text class="k" text-anchor="middle" x="639" y="1623">8°W</text>
<text class="k" text-anchor="middle" x="879" y="1623">7°W</text>
<text class="k" text-anchor="middle" x="1119" y="1623">6°W</text>
<text class="k" text-anchor="end" x="145" y="154">42.5°N</text>
<text class="k" text-anchor="end" x="145" y="514">41°N</text>
<text class="k" text-anchor="end" x="145" y="874">39.5°N</text>
<text class="k" text-anchor="end" x="145" y="1234">38°N</text>
<text class="k" text-anchor="end" x="145" y="1594">36.5°N</text>
<rect x="1122" y="1541.08" width="36" height="39.42" fill="#098400"/><rect x="1122" y="1502.16" width="36" height="39.42" fill="#1e8f00"/><rect x="1122" y="1463.24" width="36" height="39.42" fill="#339900"/><rect x="1122" y="1424.32" width="36" height="39.42" fill="#48a400"/><rect x="1122" y="1385.41" width="36" height="39.42" fill="#5dae00"/><rect x="1122" y="1346.49" width="36" height="39.42" fill="#72b900"/><rect x="1122" y="1307.57" width="36" height="39.42" fill="#84c200"/><rect x="1122" y="1268.65" width="36" height="39.42" fill="#99cc00"/><rect x="1122" y="1229.73" width="36" height="39.42" fill="#aed700"/><rect x="1122" y="1190.81" width="36" height="39.42" fill="#c3e100"/><rect x="1122" y="1151.89" width="36" height="39.42" fill="#d8ec00"/><rect x="1122" y="1112.97" width="36" height="39.42" fill="#edf600"/><rect x="1122" y="1074.05" width="36" height="39.42" fill="#fffc00"/><rect x="1122" y="1035.14" width="36" height="39.42" fill="#ffe700"/><rect x="1122" y="996.22" width="36" height="39.42" fill="#ffd200"/><rect x="1122" y="957.30" width="36" height="39.42" fill="#ffbd00"/><rect x="1122" y="918.38" width="36" height="39.42" fill="#ffa800"/><rect x="1122" y="879.46" width="36" height="39.42" fill="#ff9300"/><rect x="1122" y="840.54" width="36" height="39.42" fill="#ff7e00"/><rect x="1122" y="801.62" width="36" height="39.42" fill="#ff6c00"/><rect x="1122" y="762.70" width="36" height="39.42" fill="#ff5700"/><rect x="1122" y="723.78" width="36" height="39.42" fill="#ff4200"/><rect x="1122" y="684.86" width="36" height="39.42" fill="#ff2d00"/><rect x="1122" y="645.95" width="36" height="39.42" fill="#ff1800"/><rect x="1122" y="607.03" width="36" height="39.42" fill="#ff0300"/><rect x="1122" y="568.11" width="36" height="39.42" fill="#f60009"/><rect x="1122" y="529.19" width="36" height="39.42" fill="#ec0014"/><rect x="1122" y="490.27" width="36" height="39.42" fill="#e1001e"/><rect x="1122" y="451.35" width="36" height="39.42" fill="#d70029"/><rect x="1122" y="412.43" width="36" height="39.42" fill="#cc0033"/><rect x="1122" y="373.51" width="36" height="39.42" fill="#c2003e"/><rect x="1122" y="334.59" width="36" height="39.42" fill="#b90047"/><rect x="1122" y="295.68" width="36" height="39.42" fill="#ae0051"/><rect x="1122" y="256.76" width="36" height="39.42" fill="#a4005c"/><rect x="1122" y="217.84" width="36" height="39.42" fill="#990066"/><rect x="1122" y="178.92" width="36" height="39.42" fill="#8f0071"/><rect x="1122" y="140.00" width="36" height="39.42" fill="#84007b"/>
<g stroke="#000" stroke-width="0.8"><path d="M1122,1541.68H1158"/><path d="M1122,1502.76H1158"/><path d="M1122,1463.84H1158"/><path d="M1122,1424.92H1158"/><path d="M1122,1386.01H1158"/><path d="M1122,1347.09H1158"/><path d="M1122,1308.17H1158"/><path d="M1122,1269.25H1158"/><path d="M1122,1230.33H1158"/><path d="M1122,1191.41H1158"/><path d="M1122,1152.49H1158"/><path d="M1122,1113.57H1158"/><path d="M1122,1074.65H1158"/><path d="M1122,1035.74H1158"/><path d="M1122,996.82H1158"/><path d="M1122,957.90H1158"/><path d="M1122,918.98H1158"/><path d="M1122,880.06H1158"/><path d="M1122,841.14H1158"/><path d="M1122,802.22H1158"/><path d="M1122,763.30H1158"/><path d="M1122,724.38H1158"/><path d="M1122,685.46H1158"/><path d="M1122,646.55H1158"/><path d="M1122,607.63H1158"/><path d="M1122,568.71H1158"/><path d="M1122,529.79H1158"/><path d="M1122,490.87H1158"/><path d="M1122,451.95H1158"/><path d="M1122,413.03H1158"/><path d="M1122,374.11H1158"/><path d="M1122,335.19H1158"/><path d="M1122,296.28H1158"/><path d="M1122,257.36H1158"/><path d="M1122,218.44H1158"/><path d="M1122,179.52H1158"/></g>
<g stroke="#000" stroke-width="1.4"><path d="M1158,1580.00h7"/><path d="M1158,1502.76h7"/><path d="M1158,1424.92h7"/><path d="M1158,1347.09h7"/><path d="M1158,1269.25h7"/><path d="M1158,1191.41h7"/><path d="M1158,1113.57h7"/><path d="M1158,1035.74h7"/><path d="M1158,957.90h7"/><path d="M1158,880.06h7"/><path d="M1158,802.22h7"/><path d="M1158,724.38h7"/><path d="M1158,646.55h7"/><path d="M1158,568.71h7"/><path d="M1158,490.87h7"/><path d="M1158,413.03h7"/><path d="M1158,335.19h7"/><path d="M1158,257.36h7"/><path d="M1158,179.52h7"/></g>
<text class="k" x="1174.5" y="1594.0">20</text>
<text class="k" x="1174.5" y="1516.2">30</text>
<text class="k" x="1174.5" y="1438.3">40</text>
<text class="k" x="1174.5" y="1360.5">50</text>
<text class="k" x="1174.5" y="1282.6">60</text>
<text class="k" x="1174.5" y="1204.8">70</text>
<text class="k" x="1174.5" y="1127.0">80</text>
<text class="k" x="1174.5" y="1049.1">90</text>
<text class="k" x="1174.5" y="971.3">100</text>
<text class="k" x="1174.5" y="893.5">110</text>
<text class="k" x="1174.5" y="815.6">120</text>
<text class="k" x="1174.5" y="737.8">130</text>
<text class="k" x="1174.5" y="659.9">140</text>
<text class="k" x="1174.5" y="582.1">150</text>
<text class="k" x="1174.5" y="504.3">160</text>
<text class="k" x="1174.5" y="426.4">170</text>
<text class="k" x="1174.5" y="348.6">180</text>
<text class="k" x="1174.5" y="270.8">190</text>
<text class="k" x="1174.5" y="192.9">200</text>
</svg>
</body></html>
